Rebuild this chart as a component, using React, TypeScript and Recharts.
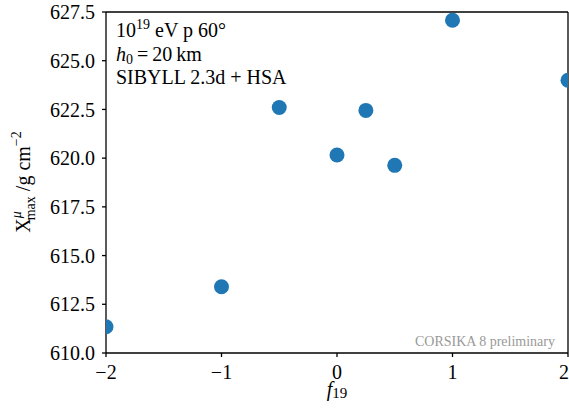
import React from 'react';
import { ScatterChart, Scatter, XAxis, YAxis, ReferenceLine, usePlotArea } from 'recharts';

const f19Values = [-2, -1, -0.5, 0, 0.25, 0.5, 1, 2];
const xmaxMuValues = [611.35, 613.4, 622.6, 620.16, 622.45, 619.63, 627.08, 624.0];
const xTicks = [-2, -1, 0, 1, 2];
const yTicks = [610, 612.5, 615, 617.5, 620, 622.5, 625, 627.5];

const data = f19Values.map((x, i) => ({ x, y: xmaxMuValues[i] }));

const FONT = "'Liberation Serif', 'DejaVu Serif', serif";
const W = 569;
const H = 415;

const fmtX = (v: number) => (v < 0 ? '\u2212' + Math.abs(v) : String(v));

// clip dots to the axes box like matplotlib does
const PlotClip = () => {
  const area = usePlotArea();
  if (!area) return null;
  return (
    <defs>
      <clipPath id="axes-clip">
        <rect x={area.x} y={area.y} width={area.width} height={area.height} />
      </clipPath>
    </defs>
  );
};

const Annotations = () => (
  <g fontFamily={FONT} fill="#000">
    <text x={116} y={37} fontSize={20}>
      10<tspan fontSize={14} dy={-8}>19</tspan>
      <tspan dy={8}> eV p 60°</tspan>
    </text>
    <text x={116} y={61} fontSize={20}>
      <tspan fontStyle="italic">h</tspan>
      <tspan fontSize={14} dy={3}>0</tspan>
      <tspan dy={-3}>{'\u2009=\u200920\u2009km'}</tspan>
    </text>
    <text x={116} y={84} fontSize={20}>SIBYLL 2.3d + HSA</text>
    <text x={555} y={346} fontSize={14} fill="#999" textAnchor="end">CORSIKA 8 preliminary</text>
    <text x={337} y={396} fontSize={20} textAnchor="middle">
      <tspan fontStyle="italic">f</tspan>
      <tspan fontSize={15} dy={2}>19</tspan>
    </text>
    <text x={0} y={0} fontSize={20} textAnchor="middle" transform="translate(30,182) rotate(-90)">
      X<tspan fontSize={14} fontStyle="italic" dy={-9}>μ</tspan>
      <tspan fontSize={14} dx={-9} dy={14}>max</tspan>
      <tspan dy={-5}> /g cm</tspan>
      <tspan fontSize={14} dy={-9}>−2</tspan>
    </text>
  </g>
);

export default function App() {
  return (
    <div style={{ position: 'absolute', left: 0, top: 0, width: W, height: H, background: '#fff' }}>
      <ScatterChart width={W} height={H} margin={{ top: 12, right: 1, bottom: 0, left: 0 }}>
        <PlotClip />
        <XAxis
          type="number"
          dataKey="x"
          domain={[-2, 2]}
          ticks={xTicks}
          allowDataOverflow
          height={62}
          tickFormatter={fmtX}
          tick={{ fontSize: 20, fill: '#000', fontFamily: FONT }}
          tickSize={4}
          tickMargin={8}
          axisLine={{ stroke: '#000', strokeWidth: 1.3 }}
          tickLine={{ stroke: '#000', strokeWidth: 1.3 }}
        />
        <YAxis
          type="number"
          dataKey="y"
          domain={[610, 627.5]}
          ticks={yTicks}
          allowDataOverflow
          width={106}
          tickFormatter={(v: number) => v.toFixed(1)}
          tick={{ fontSize: 20, fill: '#000', fontFamily: FONT }}
          tickSize={4}
          tickMargin={7}
          axisLine={{ stroke: '#000', strokeWidth: 1.3 }}
          tickLine={{ stroke: '#000', strokeWidth: 1.3 }}
        />
        <ReferenceLine x={2} stroke="#000" strokeWidth={1.3} />
        <ReferenceLine y={627.5} stroke="#000" strokeWidth={1.3} />
        <Scatter
          data={data}
          fill="#1f77b4"
          isAnimationActive={false}
          shape={(p: any) => <circle cx={p.cx} cy={p.cy} r={7.5} fill="#1f77b4" clipPath="url(#axes-clip)" />}
        />
        <Annotations />
      </ScatterChart>
    </div>
  );
}
